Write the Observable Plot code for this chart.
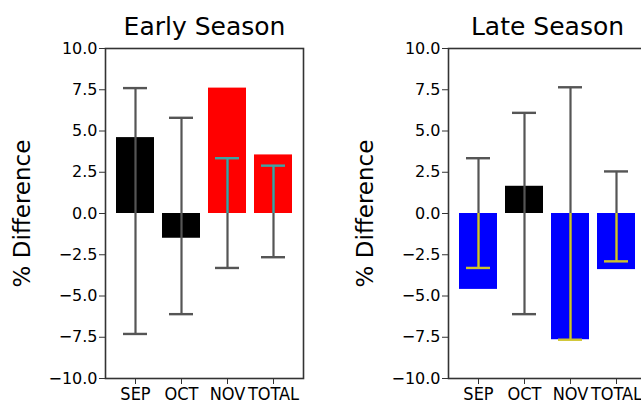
<!DOCTYPE html>
<html>
<head>
<meta charset="utf-8">
<script src="https://cdn.jsdelivr.net/npm/d3@7"></script>
<script src="https://cdn.jsdelivr.net/npm/@observablehq/plot@0.6"></script>
<style>
  html, body { margin: 0; padding: 0; background: #fff; width: 641px; height: 407px; overflow: hidden; }
  #wrap { position: relative; width: 641px; height: 407px; overflow: hidden; }
  .panel { position: absolute; top: 0; width: 320px; height: 407px; }
  .panel svg { overflow: visible; max-width: none !important; }
</style>
</head>
<body>
<div id="wrap">
  <div class="panel" id="early" style="left:0px"></div>
  <div class="panel" id="late" style="left:343px"></div>
</div>
<script>
// Monthly percent differences with error-bar bounds, per season
const months = ["SEP", "OCT", "NOV", "TOTAL"];

const earlyDiff = [4.6, -1.5, 7.6, 3.55];
const earlyLow  = [-7.3, -6.1, -3.3, -2.65];
const earlyHigh = [7.6, 5.8, 3.35, 2.9];
const earlyFill = ["black", "black", "red", "red"];

const lateDiff = [-4.6, 1.65, -7.65, -3.4];
const lateLow  = [-3.3, -6.1, -7.65, -2.9];
const lateHigh = [3.35, 6.1, 7.65, 2.55];
const lateFill = ["blue", "black", "blue", "blue"];

const yTicks = [-10, -7.5, -5, -2.5, 0, 2.5, 5, 7.5, 10];

// Error-bar colour where the bar lies on top of a coloured fill
const tintOn = {red: "#3aa5a5", blue: "#cfc42a", black: null};
const errColor = "#555";

function panel(title, diff, low, high, fill) {
  const rows = months.map((m, i) => ({
    month: m, value: diff[i], lo: low[i], hi: high[i], fill: fill[i]
  }));
  // segments of each error bar lying inside its own coloured bar
  const inner = rows.filter(d => tintOn[d.fill]).map(d => {
    const a = Math.max(Math.min(0, d.value), d.lo);
    const b = Math.min(Math.max(0, d.value), d.hi);
    return {...d, a, b, tint: tintOn[d.fill]};
  }).filter(d => d.b > d.a);
  const inside = (d, v) => v >= Math.min(0, d.value) && v <= Math.max(0, d.value);
  const caps = rows.flatMap(d => [d.lo, d.hi].map(v => ({
    month: d.month, v, color: (tintOn[d.fill] && inside(d, v)) ? tintOn[d.fill] : errColor
  })));

  return Plot.plot({
    width: 320,
    height: 407,
    marginTop: 48,
    marginBottom: 29,
    marginLeft: 105,
    marginRight: 17,
    style: {fontFamily: "DejaVu Sans", color: "#000", background: "transparent"},
    x: {domain: months, paddingInner: 0.18, paddingOuter: 0.2, label: null},
    y: {domain: [-10, 10], label: null},
    marks: [
      Plot.barY(rows, {x: "month", y: "value", fill: "fill"}),
      Plot.ruleX(rows, {x: "month", y1: "lo", y2: "hi", stroke: errColor, strokeWidth: 2.2}),
      Plot.ruleX(inner, {x: "month", y1: "a", y2: "b", stroke: "tint", strokeWidth: 2.2}),
      Plot.tickY(caps, {x: "month", y: "v", stroke: "color", strokeWidth: 2.4, insetLeft: 7, insetRight: 7}),
      Plot.frame({stroke: "#333", strokeWidth: 1.6}),
      Plot.axisY({ticks: yTicks, tickFormat: d3.format(".1f"), tickSize: 6, tickPadding: 2,
                  fontSize: 16, label: null, stroke: "#333", letterSpacing: "-0.5px"}),
      Plot.axisY({ticks: [], label: "% Difference", labelAnchor: "center", labelArrow: "none",
                  labelOffset: 92, fontSize: 23}),
      Plot.axisX({tickSize: 6, tickPadding: 3, fontSize: 18, label: null, stroke: "#333",
                  fontFamily: "DejaVu Sans Condensed", fontStretch: "condensed", letterSpacing: "-1.4px"}),
      Plot.text([title], {frameAnchor: "top", dy: -14, lineAnchor: "bottom", fontSize: 25, fill: "#000"})
    ]
  });
}

document.getElementById("early").appendChild(panel("Early Season", earlyDiff, earlyLow, earlyHigh, earlyFill));
document.getElementById("late").appendChild(panel("Late Season", lateDiff, lateLow, lateHigh, lateFill));
</script>
</body>
</html>
